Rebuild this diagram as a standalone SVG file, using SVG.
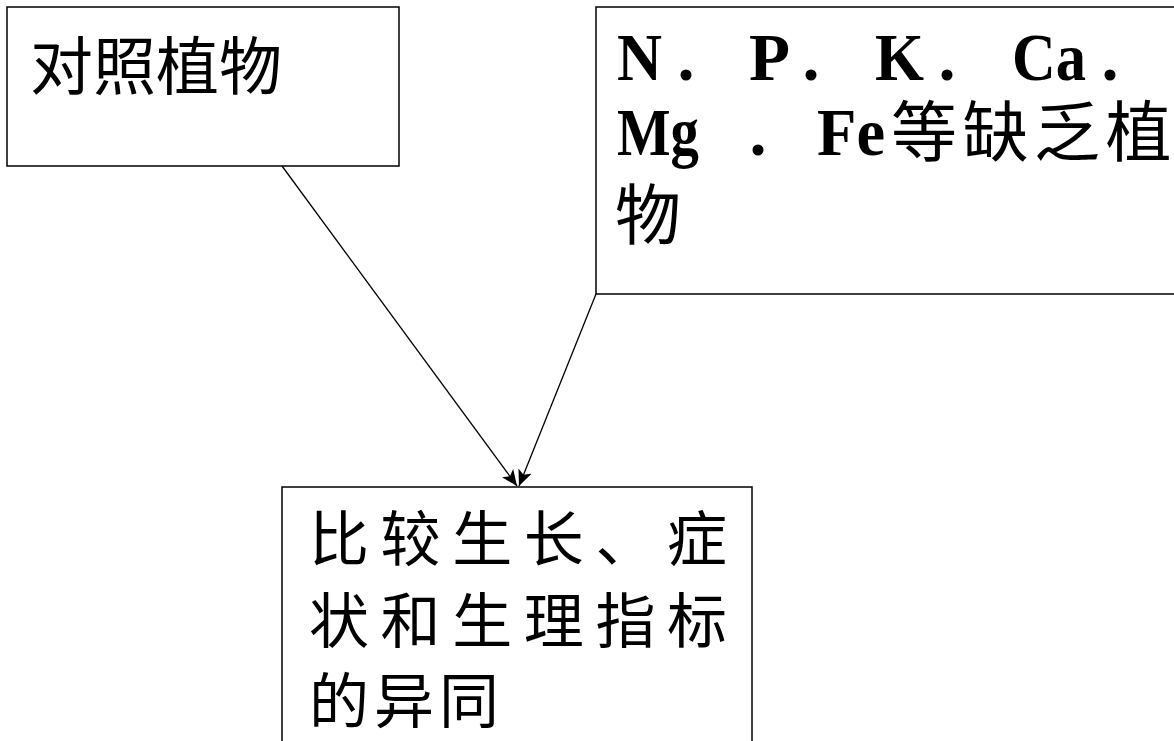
<svg xmlns="http://www.w3.org/2000/svg" width="1174" height="741" viewBox="0 0 1174 741">
<style>
.box{fill:#fff;stroke:#000;stroke-width:1.5}
.cjk{font-family:"Noto Sans CJK SC","Noto Sans",sans-serif;fill:#000}
.lat{font-family:"Liberation Serif","Times New Roman",serif;font-weight:bold;fill:#000;font-size:68px}
.dot{font-family:"Liberation Serif","Times New Roman",serif;font-weight:bold;fill:#000;font-size:68px;text-anchor:middle}
.edge{stroke:#000;stroke-width:1.3;fill:none}
</style>
<defs>
<marker id="arr" markerUnits="userSpaceOnUse" markerWidth="18" markerHeight="14" refX="16" refY="7" orient="auto">
<path d="M0,0 L16,7 L0,14 L4,7 Z" fill="#000"/>
</marker>
</defs>
<rect width="1174" height="741" fill="#fff"/>
<g id="node-control">
<rect class="box" x="7" y="7" width="392" height="159"/>
<text class="cjk" x="30" y="89" font-size="63">对照植物</text>
</g>
<g id="node-deficient">
<rect class="box" x="596" y="7" width="590" height="287"/>
<text class="lat" x="617" y="80" textLength="45" lengthAdjust="spacingAndGlyphs">N</text>
<text class="dot" x="686" y="80">.</text>
<text class="lat" x="749" y="80" textLength="41" lengthAdjust="spacingAndGlyphs">P</text>
<text class="dot" x="811" y="80">.</text>
<text class="lat" x="875" y="80" textLength="49" lengthAdjust="spacingAndGlyphs">K</text>
<text class="dot" x="947" y="80">.</text>
<text class="lat" x="1012" y="80" textLength="74" lengthAdjust="spacingAndGlyphs">Ca</text>
<text class="dot" x="1110" y="80">.</text>
<text class="lat" x="617" y="155" textLength="82" lengthAdjust="spacingAndGlyphs">Mg</text>
<text class="dot" x="758" y="155">.</text>
<text class="lat" x="817" y="155" textLength="68" lengthAdjust="spacingAndGlyphs">Fe</text>
<text class="cjk" font-size="66" x="891" y="156" letter-spacing="5.5">等缺乏植</text>
<text class="cjk" font-size="66" x="615" y="239">物</text>
</g>
<g id="node-compare">
<rect class="box" x="282" y="487" width="470" height="270"/>
<text class="cjk" font-size="60" x="309" y="561" letter-spacing="11.6">比较生长、症</text>
<text class="cjk" font-size="60" x="309" y="643" letter-spacing="11.6">状和生理指标</text>
<text class="cjk" font-size="60" x="309" y="723" letter-spacing="5">的异同</text>
</g>
<g id="connectors">
<line class="edge" x1="282" y1="166" x2="517" y2="486" marker-end="url(#arr)"/>
<line class="edge" x1="596" y1="294" x2="519" y2="486" marker-end="url(#arr)"/>
</g>
</svg>
